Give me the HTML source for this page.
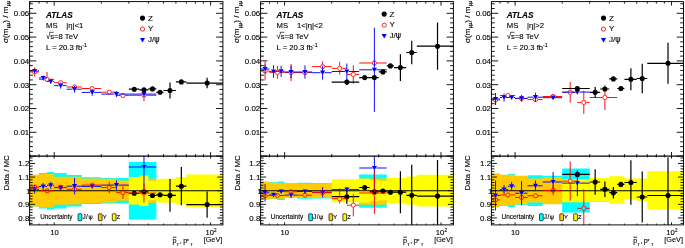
<!DOCTYPE html><html><head><meta charset="utf-8"><title>ATLAS resolution</title><style>html,body{margin:0;padding:0;background:#fff;overflow:hidden}svg{display:block}</style></head><body><svg width="685" height="248" viewBox="0 0 685 248" font-family="'Liberation Sans', Arial, Helvetica, sans-serif" fill="#000"><style>text{stroke:#000;stroke-width:0.12px}</style><defs><clipPath id="cu0"><rect x="29.60" y="1.6" width="193.30" height="154.5"/></clipPath><clipPath id="cr0"><rect x="29.60" y="156.1" width="193.30" height="68.80000000000001"/></clipPath><clipPath id="cu1"><rect x="260.60" y="1.6" width="192.80" height="154.5"/></clipPath><clipPath id="cr1"><rect x="260.60" y="156.1" width="192.80" height="68.80000000000001"/></clipPath><clipPath id="cu2"><rect x="491.40" y="1.6" width="192.10" height="154.5"/></clipPath><clipPath id="cr2"><rect x="491.40" y="156.1" width="192.10" height="68.80000000000001"/></clipPath></defs><rect width="685" height="248" fill="#fff"/><g clip-path="url(#cr0)">
<path d="M29.97 174.90L39.04 174.90L39.04 172.90L47.04 172.90L47.04 172.00L54.20 172.00L54.20 172.90L66.58 172.90L66.58 174.90L81.74 174.90L81.74 177.30L101.28 177.30L101.28 177.90L128.82 177.90L128.82 161.90L156.36 161.90L156.36 219.50L128.82 219.50L128.82 203.50L101.28 203.50L101.28 204.10L81.74 204.10L81.74 206.50L66.58 206.50L66.58 208.50L54.20 208.50L54.20 209.40L47.04 209.40L47.04 208.50L39.04 208.50L39.04 206.50L29.97 206.50Z" fill="#00ffff"/>
<path d="M29.97 174.85L39.04 174.85L39.04 173.90L54.20 173.90L54.20 176.75L66.58 176.75L66.58 176.80L81.74 176.80L81.74 178.40L101.28 178.40L101.28 178.80L116.44 178.80L116.44 180.60L128.82 180.60L128.82 178.70L156.36 178.70L156.36 202.70L128.82 202.70L128.82 200.80L116.44 200.80L116.44 202.60L101.28 202.60L101.28 203.00L81.74 203.00L81.74 204.60L66.58 204.60L66.58 204.65L54.20 204.65L54.20 207.50L39.04 207.50L39.04 206.55L29.97 206.55Z" fill="#ffcc00"/>
<path d="M128.82 177.00L139.29 177.00L139.29 175.40L148.36 175.40L148.36 181.10L156.36 181.10L156.36 178.90L163.52 178.90L163.52 178.70L175.90 178.70L175.90 176.90L186.37 176.90L186.37 174.50L222.98 174.50L222.98 206.90L186.37 206.90L186.37 204.50L175.90 204.50L175.90 202.70L163.52 202.70L163.52 202.50L156.36 202.50L156.36 200.30L148.36 200.30L148.36 206.00L139.29 206.00L139.29 204.40L128.82 204.40Z" fill="#ffff00"/>
<line x1="29.60" y1="190.75" x2="222.90" y2="190.75" stroke="#000" stroke-width="1.0"/>
<path d="M128.82 193.30H132.26M136.26 193.30H139.29M139.29 191.80H141.98M145.98 191.80H148.36M148.36 195.50H150.48M154.48 195.50H156.36M156.36 194.80H158.03M162.03 194.80H163.52M163.52 195.40H167.99M171.99 195.40H175.90M169.99 179.04V193.40M169.99 197.40V211.76M175.90 186.20H179.34M183.34 186.20H186.37M181.34 167.12V184.20M181.34 188.20V205.28M186.37 204.60H205.12M209.12 204.60H222.98M207.12 191.52V202.60M207.12 206.60V217.68" stroke="#000000" stroke-width="1.2" fill="none"/>
<circle cx="134.26" cy="193.30" r="2.55" fill="#000"/>
<circle cx="143.98" cy="191.80" r="2.55" fill="#000"/>
<circle cx="152.48" cy="195.50" r="2.55" fill="#000"/>
<circle cx="160.03" cy="194.80" r="2.55" fill="#000"/>
<circle cx="169.99" cy="195.40" r="2.55" fill="#000"/>
<circle cx="181.34" cy="186.20" r="2.55" fill="#000"/>
<circle cx="207.12" cy="204.60" r="2.55" fill="#000"/>
<path d="M29.97 189.30H32.66M36.66 189.30H39.04M34.66 185.10V187.30M34.66 191.30V193.50M39.04 186.50H41.16M45.16 186.50H47.04M43.16 183.00V184.50M43.16 188.50V190.00M47.04 185.30H48.72M52.72 185.30H54.20M50.72 181.80V183.30M50.72 187.30V188.80M54.20 187.60H58.67M62.67 187.60H66.58M66.58 186.20H72.58M76.58 186.20H81.74M74.58 178.02V184.20M74.58 188.20V194.38M81.74 186.40H90.21M94.21 186.40H101.28M101.28 185.10H114.44M118.44 185.10H128.82M116.44 180.33V183.10M116.44 187.10V189.87M128.82 167.00H141.98M145.98 167.00H156.36M143.98 142.47V165.00M143.98 169.00V191.53" stroke="#0000ff" stroke-width="0.95" fill="none"/>
<path d="M32.11 187.20H37.21L34.66 191.90Z" fill="#0000ff"/>
<path d="M40.61 184.40H45.71L43.16 189.10Z" fill="#0000ff"/>
<path d="M48.17 183.20H53.27L50.72 187.90Z" fill="#0000ff"/>
<path d="M58.12 185.50H63.22L60.67 190.20Z" fill="#0000ff"/>
<path d="M72.03 184.10H77.13L74.58 188.80Z" fill="#0000ff"/>
<path d="M89.66 184.30H94.76L92.21 189.00Z" fill="#0000ff"/>
<path d="M113.89 183.00H118.99L116.44 187.70Z" fill="#0000ff"/>
<path d="M141.43 164.90H146.53L143.98 169.60Z" fill="#0000ff"/>
<path d="M29.97 187.10H32.16M37.16 187.10H39.04M39.04 190.80H44.54M49.54 190.80H54.20M54.20 187.30H58.17M63.17 187.30H66.58M66.58 189.30H72.08M77.08 189.30H81.74M81.74 185.10H89.71M94.71 185.10H101.28M101.28 187.60H106.78M111.78 187.60H116.44M109.28 181.74V185.10M109.28 190.10V193.46M116.44 192.60H120.41M125.41 192.60H128.82M122.91 186.33V190.10M122.91 195.10V198.87M128.82 193.10H141.48M146.48 193.10H156.36M143.98 183.56V190.60M143.98 195.60V202.64" stroke="#ff0000" stroke-width="0.95" fill="none"/>
<circle cx="34.66" cy="187.10" r="2.1" fill="none" stroke="#ff0000" stroke-width="0.85"/>
<circle cx="47.04" cy="190.80" r="2.1" fill="none" stroke="#ff0000" stroke-width="0.85"/>
<circle cx="60.67" cy="187.30" r="2.1" fill="none" stroke="#ff0000" stroke-width="0.85"/>
<circle cx="74.58" cy="189.30" r="2.1" fill="none" stroke="#ff0000" stroke-width="0.85"/>
<circle cx="92.21" cy="185.10" r="2.1" fill="none" stroke="#ff0000" stroke-width="0.85"/>
<circle cx="109.28" cy="187.60" r="2.1" fill="none" stroke="#ff0000" stroke-width="0.85"/>
<circle cx="122.91" cy="192.60" r="2.1" fill="none" stroke="#ff0000" stroke-width="0.85"/>
<circle cx="143.98" cy="193.10" r="2.1" fill="none" stroke="#ff0000" stroke-width="0.85"/>
</g>
<g clip-path="url(#cu0)">
<path d="M29.97 72.00H32.16M37.16 72.00H39.04M34.66 67.48V69.50M34.66 74.50V76.52M39.04 79.30H44.54M49.54 79.30H54.20M47.04 72.00V76.80M54.20 82.70H58.17M63.17 82.70H66.58M66.58 87.00H72.08M77.08 87.00H81.74M81.74 88.50H89.71M94.71 88.50H101.28M101.28 92.20H106.78M111.78 92.20H116.44M116.44 95.50H120.41M125.41 95.50H128.82M128.82 95.30H141.48M146.48 95.30H156.36M143.98 89.35V92.80M143.98 97.80V101.25" stroke="#ff0000" stroke-width="0.95" fill="none"/>
<circle cx="34.66" cy="72.00" r="2.1" fill="none" stroke="#ff0000" stroke-width="0.85"/>
<circle cx="47.04" cy="79.30" r="2.1" fill="none" stroke="#ff0000" stroke-width="0.85"/>
<circle cx="60.67" cy="82.70" r="2.1" fill="none" stroke="#ff0000" stroke-width="0.85"/>
<circle cx="74.58" cy="87.00" r="2.1" fill="none" stroke="#ff0000" stroke-width="0.85"/>
<circle cx="92.21" cy="88.50" r="2.1" fill="none" stroke="#ff0000" stroke-width="0.85"/>
<circle cx="109.28" cy="92.20" r="2.1" fill="none" stroke="#ff0000" stroke-width="0.85"/>
<circle cx="122.91" cy="95.50" r="2.1" fill="none" stroke="#ff0000" stroke-width="0.85"/>
<circle cx="143.98" cy="95.30" r="2.1" fill="none" stroke="#ff0000" stroke-width="0.85"/>
<path d="M29.97 71.00H32.66M36.66 71.00H39.04M34.66 68.50V69.00M34.66 73.00V73.50M39.04 78.00H41.16M45.16 78.00H47.04M43.16 75.50V76.00M43.16 80.00V80.50M47.04 81.50H48.72M52.72 81.50H54.20M50.72 79.00V79.50M50.72 83.50V84.00M54.20 85.60H58.67M62.67 85.60H66.58M60.67 82.60V83.60M60.67 87.60V88.60M66.58 89.20H72.58M76.58 89.20H81.74M74.58 85.80V87.20M74.58 91.20V92.60M81.74 92.40H90.21M94.21 92.40H101.28M92.21 89.00V90.40M92.21 94.40V95.80M101.28 94.10H114.44M118.44 94.10H128.82M116.44 91.10V92.10M116.44 96.10V97.10M128.82 94.10H141.98M145.98 94.10H156.36M143.98 91.10V92.10M143.98 96.10V97.10" stroke="#0000ff" stroke-width="0.95" fill="none"/>
<path d="M32.11 68.90H37.21L34.66 73.60Z" fill="#0000ff"/>
<path d="M40.61 75.90H45.71L43.16 80.60Z" fill="#0000ff"/>
<path d="M48.17 79.40H53.27L50.72 84.10Z" fill="#0000ff"/>
<path d="M58.12 83.50H63.22L60.67 88.20Z" fill="#0000ff"/>
<path d="M72.03 87.10H77.13L74.58 91.80Z" fill="#0000ff"/>
<path d="M89.66 90.30H94.76L92.21 95.00Z" fill="#0000ff"/>
<path d="M113.89 92.00H118.99L116.44 96.70Z" fill="#0000ff"/>
<path d="M141.43 92.00H146.53L143.98 96.70Z" fill="#0000ff"/>
<path d="M128.82 89.20H132.26M136.26 89.20H139.29M139.29 89.80H141.98M145.98 89.80H148.36M148.36 88.90H150.48M154.48 88.90H156.36M156.36 92.30H158.03M162.03 92.30H163.52M163.52 90.50H167.99M171.99 90.50H175.90M169.99 82.41V88.50M169.99 92.50V98.59M175.90 81.90H179.34M183.34 81.90H186.37M186.37 83.10H205.12M209.12 83.10H222.98M207.12 77.86V81.10M207.12 85.10V88.34" stroke="#000000" stroke-width="1.2" fill="none"/>
<circle cx="134.26" cy="89.20" r="2.55" fill="#000"/>
<circle cx="143.98" cy="89.80" r="2.55" fill="#000"/>
<circle cx="152.48" cy="88.90" r="2.55" fill="#000"/>
<circle cx="160.03" cy="92.30" r="2.55" fill="#000"/>
<circle cx="169.99" cy="90.50" r="2.55" fill="#000"/>
<circle cx="181.34" cy="81.90" r="2.55" fill="#000"/>
<circle cx="207.12" cy="83.10" r="2.55" fill="#000"/>
</g>
<rect x="29.6" y="1.6" width="193.3" height="223.3" fill="none" stroke="#000" stroke-width="0.95"/>
<line x1="29.6" y1="156.1" x2="222.9" y2="156.1" stroke="#000" stroke-width="1.1"/>
<path d="M29.6 156.10h6.8M222.9 156.10h-6.8M29.6 151.34h3.3M222.9 151.34h-3.3M29.6 146.58h3.3M222.9 146.58h-3.3M29.6 141.82h3.3M222.9 141.82h-3.3M29.6 137.06h3.3M222.9 137.06h-3.3M29.6 132.30h6.8M222.9 132.30h-6.8M29.6 127.54h3.3M222.9 127.54h-3.3M29.6 122.78h3.3M222.9 122.78h-3.3M29.6 118.02h3.3M222.9 118.02h-3.3M29.6 113.26h3.3M222.9 113.26h-3.3M29.6 108.50h6.8M222.9 108.50h-6.8M29.6 103.74h3.3M222.9 103.74h-3.3M29.6 98.98h3.3M222.9 98.98h-3.3M29.6 94.22h3.3M222.9 94.22h-3.3M29.6 89.46h3.3M222.9 89.46h-3.3M29.6 84.70h6.8M222.9 84.70h-6.8M29.6 79.94h3.3M222.9 79.94h-3.3M29.6 75.18h3.3M222.9 75.18h-3.3M29.6 70.42h3.3M222.9 70.42h-3.3M29.6 65.66h3.3M222.9 65.66h-3.3M29.6 60.90h6.8M222.9 60.90h-6.8M29.6 56.14h3.3M222.9 56.14h-3.3M29.6 51.38h3.3M222.9 51.38h-3.3M29.6 46.62h3.3M222.9 46.62h-3.3M29.6 41.86h3.3M222.9 41.86h-3.3M29.6 37.10h6.8M222.9 37.10h-6.8M29.6 32.34h3.3M222.9 32.34h-3.3M29.6 27.58h3.3M222.9 27.58h-3.3M29.6 22.82h3.3M222.9 22.82h-3.3M29.6 18.06h3.3M222.9 18.06h-3.3M29.6 13.30h6.8M222.9 13.30h-6.8M29.6 8.54h3.3M222.9 8.54h-3.3M29.6 3.78h3.3M222.9 3.78h-3.3M29.6 223.41h3.0M222.9 223.41h-3.0M29.6 220.69h3.0M222.9 220.69h-3.0M29.6 217.96h5.5M222.9 217.96h-5.5M29.6 215.23h3.0M222.9 215.23h-3.0M29.6 212.51h3.0M222.9 212.51h-3.0M29.6 209.78h3.0M222.9 209.78h-3.0M29.6 207.06h3.0M222.9 207.06h-3.0M29.6 204.33h5.5M222.9 204.33h-5.5M29.6 201.60h3.0M222.9 201.60h-3.0M29.6 198.88h3.0M222.9 198.88h-3.0M29.6 196.15h3.0M222.9 196.15h-3.0M29.6 193.43h3.0M222.9 193.43h-3.0M29.6 190.70h5.5M222.9 190.70h-5.5M29.6 187.97h3.0M222.9 187.97h-3.0M29.6 185.25h3.0M222.9 185.25h-3.0M29.6 182.52h3.0M222.9 182.52h-3.0M29.6 179.80h3.0M222.9 179.80h-3.0M29.6 177.07h5.5M222.9 177.07h-5.5M29.6 174.34h3.0M222.9 174.34h-3.0M29.6 171.62h3.0M222.9 171.62h-3.0M29.6 168.89h3.0M222.9 168.89h-3.0M29.6 166.17h3.0M222.9 166.17h-3.0M29.6 163.44h5.5M222.9 163.44h-5.5M29.6 160.71h3.0M222.9 160.71h-3.0M29.6 157.99h3.0M222.9 157.99h-3.0M29.97 1.6v2.0M29.97 156.1v-2.0M29.97 156.1v1.3M29.97 224.9v-1.3M39.04 1.6v2.0M39.04 156.1v-2.0M39.04 156.1v1.3M39.04 224.9v-1.3M47.04 1.6v2.0M47.04 156.1v-2.0M47.04 156.1v1.3M47.04 224.9v-1.3M54.20 1.6v4.0M54.20 156.1v-4.0M54.20 156.1v2.5M54.20 224.9v-2.5M101.28 1.6v2.0M101.28 156.1v-2.0M101.28 156.1v1.3M101.28 224.9v-1.3M128.82 1.6v2.0M128.82 156.1v-2.0M128.82 156.1v1.3M128.82 224.9v-1.3M148.36 1.6v2.0M148.36 156.1v-2.0M148.36 156.1v1.3M148.36 224.9v-1.3M163.52 1.6v2.0M163.52 156.1v-2.0M163.52 156.1v1.3M163.52 224.9v-1.3M175.90 1.6v2.0M175.90 156.1v-2.0M175.90 156.1v1.3M175.90 224.9v-1.3M186.37 1.6v2.0M186.37 156.1v-2.0M186.37 156.1v1.3M186.37 224.9v-1.3M195.44 1.6v2.0M195.44 156.1v-2.0M195.44 156.1v1.3M195.44 224.9v-1.3M203.44 1.6v2.0M203.44 156.1v-2.0M203.44 156.1v1.3M203.44 224.9v-1.3M210.60 1.6v4.0M210.60 156.1v-4.0M210.60 156.1v2.5M210.60 224.9v-2.5" stroke="#000" stroke-width="0.9" fill="none"/>
<text x="29.20" y="16.20" font-size="7.9" text-anchor="end" >0.06</text>
<text x="29.20" y="40.00" font-size="7.9" text-anchor="end" >0.05</text>
<text x="29.20" y="63.80" font-size="7.9" text-anchor="end" >0.04</text>
<text x="29.20" y="87.60" font-size="7.9" text-anchor="end" >0.03</text>
<text x="29.20" y="111.40" font-size="7.9" text-anchor="end" >0.02</text>
<text x="29.20" y="135.20" font-size="7.9" text-anchor="end" >0.01</text>
<text x="29.30" y="166.34" font-size="7.9" text-anchor="end" >1.2</text>
<text x="29.30" y="179.97" font-size="7.9" text-anchor="end" >1.1</text>
<text x="30.70" y="193.60" font-size="7.9" text-anchor="end" >1</text>
<text x="29.30" y="207.23" font-size="7.9" text-anchor="end" >0.9</text>
<text x="29.30" y="220.86" font-size="7.9" text-anchor="end" >0.8</text>
<text x="54.45" y="234.80" font-size="7.6" text-anchor="middle" >10</text>
<text x="209.70" y="234.80" font-size="7.6" text-anchor="middle" >10</text>
<text x="214.10" y="231.50" font-size="4.6" text-anchor="start" >2</text>
<text x="222.30" y="242.30" font-size="8.0" text-anchor="end" textLength="18.6" lengthAdjust="spacingAndGlyphs">[GeV]</text>
<text x="172.60" y="242.90" font-size="7.2" text-anchor="start" >p</text>
<text x="176.60" y="246.00" font-size="4.4" text-anchor="start" >T</text>
<text x="179.80" y="242.90" font-size="7.2" text-anchor="start" >,</text>
<text x="183.20" y="242.90" font-size="7.2" text-anchor="start" >p</text>
<text x="186.80" y="243.20" font-size="5.2" text-anchor="start" >*</text>
<text x="190.30" y="246.00" font-size="4.4" text-anchor="start" >T</text>
<line x1="172.80" y1="237.2" x2="176.40" y2="237.2" stroke="#000" stroke-width="0.8"/>
<text transform="translate(8.00,43.0) rotate(-90)" font-size="8.1">σ(m<tspan font-size="4.8" dy="2.4" dx="0.3">μμ</tspan><tspan dy="-2.4">) / m</tspan><tspan font-size="4.8" dy="2.4" dx="0.3">μμ</tspan></text>
<text transform="translate(9.40,190.4) rotate(-90)" font-size="7.8">Data / MC</text>
<text x="46.00" y="17.6" font-size="8.2" font-weight="bold" font-style="italic">ATLAS</text>
<text x="46.00" y="27.8" font-size="7.7">MS</text>
<text x="66.30" y="27.8" font-size="7.7">|η|&lt;1</text>
<text x="46.00" y="39.0" font-size="7.7">√<tspan>s=8 TeV</tspan></text>
<line x1="49.20" y1="32.3" x2="53.80" y2="32.3" stroke="#000" stroke-width="0.65"/>
<text x="46.00" y="49.8" font-size="7.7">L = 20.3 fb<tspan font-size="5.4" dy="-3.2">-1</tspan></text>
<circle cx="142.50" cy="18.10" r="2.55" fill="#000"/>
<circle cx="142.50" cy="29.10" r="2.1" fill="none" stroke="#ff0000" stroke-width="0.85"/>
<path d="M139.95 37.90H145.05L142.50 42.60Z" fill="#0000ff"/>
<text x="147.90" y="20.70" font-size="8.0">Z</text>
<text x="147.90" y="31.40" font-size="8.0">Υ</text>
<text x="147.90" y="42.00" font-size="8.0">J/<tspan font-family="'DejaVu Sans', sans-serif">ψ</tspan></text>
<text x="40.20" y="218.9" font-size="6.4">Uncertainty</text>
<rect x="78.10" y="213.8" width="3.7" height="6.9" rx="0.6" fill="#00ffff" stroke="#000" stroke-width="0.7"/>
<text x="82.40" y="219.4" font-size="6.4" letter-spacing="0.5">J/<tspan font-family="'DejaVu Sans', sans-serif">ψ</tspan></text>
<rect x="98.40" y="213.8" width="3.7" height="6.9" rx="0.6" fill="#ffcc00" stroke="#000" stroke-width="0.7"/>
<text x="102.70" y="219.4" font-size="5.8" letter-spacing="0">Υ</text>
<rect x="112.30" y="213.8" width="3.7" height="6.9" rx="0.6" fill="#ffff00" stroke="#000" stroke-width="0.7"/>
<text x="116.60" y="219.4" font-size="5.8" letter-spacing="0">Z</text>
<g clip-path="url(#cr1)">
<path d="M260.37 182.70L269.44 182.70L269.44 182.30L277.44 182.30L277.44 181.50L284.60 181.50L284.60 183.30L296.98 183.30L296.98 182.70L312.14 182.70L312.14 182.90L331.68 182.90L331.68 182.70L359.22 182.70L359.22 174.50L386.76 174.50L386.76 207.70L359.22 207.70L359.22 198.70L331.68 198.70L331.68 198.50L312.14 198.50L312.14 198.70L296.98 198.70L296.98 198.10L284.60 198.10L284.60 199.90L277.44 199.90L277.44 199.10L269.44 199.10L269.44 198.70L260.37 198.70Z" fill="#00ffff"/>
<path d="M260.37 181.60L269.44 181.60L269.44 182.70L284.60 182.70L284.60 183.30L296.98 183.30L296.98 183.50L312.14 183.50L312.14 183.50L331.68 183.50L331.68 183.70L346.84 183.70L346.84 183.70L359.22 183.70L359.22 178.50L386.76 178.50L386.76 204.70L359.22 204.70L359.22 197.70L346.84 197.70L346.84 197.70L331.68 197.70L331.68 197.90L312.14 197.90L312.14 197.90L296.98 197.90L296.98 198.10L284.60 198.10L284.60 198.70L269.44 198.70L269.44 199.80L260.37 199.80Z" fill="#ffcc00"/>
<path d="M331.68 179.20L359.22 179.20L359.22 178.70L369.69 178.70L369.69 180.20L378.76 180.20L378.76 181.10L386.76 181.10L386.76 178.10L393.92 178.10L393.92 178.00L406.30 178.00L406.30 176.60L416.77 176.60L416.77 174.80L453.38 174.80L453.38 206.60L416.77 206.60L416.77 204.80L406.30 204.80L406.30 203.40L393.92 203.40L393.92 203.30L386.76 203.30L386.76 200.30L378.76 200.30L378.76 201.20L369.69 201.20L369.69 202.70L359.22 202.70L359.22 202.20L331.68 202.20Z" fill="#ffff00"/>
<line x1="260.60" y1="190.75" x2="453.40" y2="190.75" stroke="#000" stroke-width="1.0"/>
<path d="M331.68 196.70H344.84M348.84 196.70H359.22M346.84 189.70V194.70M346.84 198.70V203.70M359.22 187.50H362.66M366.66 187.50H369.69M369.69 191.80H372.38M376.38 191.80H378.76M378.76 191.10H380.88M384.88 191.10H386.76M386.76 192.20H388.43M392.43 192.20H393.92M393.92 192.20H398.39M402.39 192.20H406.30M400.39 171.20V190.20M400.39 194.20V213.20M406.30 195.30H409.74M413.74 195.30H416.77M411.74 164.80V193.30M411.74 197.30V225.80M416.77 196.10H435.52M439.52 196.10H453.38M437.52 160.10V194.10M437.52 198.10V232.10" stroke="#000000" stroke-width="1.2" fill="none"/>
<circle cx="346.84" cy="196.70" r="2.55" fill="#000"/>
<circle cx="364.66" cy="187.50" r="2.55" fill="#000"/>
<circle cx="374.38" cy="191.80" r="2.55" fill="#000"/>
<circle cx="382.88" cy="191.10" r="2.55" fill="#000"/>
<circle cx="390.43" cy="192.20" r="2.55" fill="#000"/>
<circle cx="400.39" cy="192.20" r="2.55" fill="#000"/>
<circle cx="411.74" cy="195.30" r="2.55" fill="#000"/>
<circle cx="437.52" cy="196.10" r="2.55" fill="#000"/>
<path d="M260.37 192.80H263.06M267.06 192.80H269.44M265.06 184.00V190.80M265.06 194.80V201.60M269.44 194.80H271.56M275.56 194.80H277.44M277.44 191.50H279.12M283.12 191.50H284.60M284.60 195.10H289.07M293.07 195.10H296.98M291.07 192.10V193.10M291.07 197.10V198.10M296.98 191.50H302.98M306.98 191.50H312.14M312.14 192.30H320.61M324.61 192.30H331.68M322.61 187.10V190.30M322.61 194.30V197.50M331.68 189.60H344.84M348.84 189.60H359.22M346.84 187.10V187.60M346.84 191.60V192.10M359.22 168.00H372.38M376.38 168.00H386.76M374.38 138.00V166.00M374.38 170.00V190.00" stroke="#0000ff" stroke-width="0.95" fill="none"/>
<path d="M262.51 190.70H267.61L265.06 195.40Z" fill="#0000ff"/>
<path d="M271.01 192.70H276.11L273.56 197.40Z" fill="#0000ff"/>
<path d="M278.57 189.40H283.67L281.12 194.10Z" fill="#0000ff"/>
<path d="M288.52 193.00H293.62L291.07 197.70Z" fill="#0000ff"/>
<path d="M302.43 189.40H307.53L304.98 194.10Z" fill="#0000ff"/>
<path d="M320.06 190.20H325.16L322.61 194.90Z" fill="#0000ff"/>
<path d="M344.29 187.50H349.39L346.84 192.20Z" fill="#0000ff"/>
<path d="M371.83 165.90H376.93L374.38 170.60Z" fill="#0000ff"/>
<path d="M260.37 195.60H262.56M267.56 195.60H269.44M269.44 195.50H274.94M279.94 195.50H284.60M284.60 191.80H288.57M293.57 191.80H296.98M296.98 195.20H302.48M307.48 195.20H312.14M312.14 192.60H320.11M325.11 192.60H331.68M331.68 198.70H337.18M342.18 198.70H346.84M339.68 188.20V196.20M339.68 201.20V203.40M346.84 205.20H350.81M355.81 205.20H359.22M353.31 194.00V202.70M353.31 207.70V216.40M359.22 193.00H371.88M376.88 193.00H386.76M374.38 172.00V190.50M374.38 195.50V214.00" stroke="#ff0000" stroke-width="0.95" fill="none"/>
<circle cx="265.06" cy="195.60" r="2.1" fill="none" stroke="#ff0000" stroke-width="0.85"/>
<circle cx="277.44" cy="195.50" r="2.1" fill="none" stroke="#ff0000" stroke-width="0.85"/>
<circle cx="291.07" cy="191.80" r="2.1" fill="none" stroke="#ff0000" stroke-width="0.85"/>
<circle cx="304.98" cy="195.20" r="2.1" fill="none" stroke="#ff0000" stroke-width="0.85"/>
<circle cx="322.61" cy="192.60" r="2.1" fill="none" stroke="#ff0000" stroke-width="0.85"/>
<circle cx="339.68" cy="198.70" r="2.1" fill="none" stroke="#ff0000" stroke-width="0.85"/>
<circle cx="353.31" cy="205.20" r="2.1" fill="none" stroke="#ff0000" stroke-width="0.85"/>
<circle cx="374.38" cy="193.00" r="2.1" fill="none" stroke="#ff0000" stroke-width="0.85"/>
</g>
<g clip-path="url(#cu1)">
<path d="M260.37 71.00H262.56M267.56 71.00H269.44M265.06 61.50V68.50M265.06 73.50V80.50M269.44 72.40H274.94M279.94 72.40H284.60M277.44 65.90V69.90M277.44 74.90V78.90M284.60 72.50H288.57M293.57 72.50H296.98M291.07 64.00V70.00M291.07 75.00V81.00M296.98 72.60H302.48M307.48 72.60H312.14M312.14 66.60H320.11M325.11 66.60H331.68M322.61 61.30V64.10M322.61 69.10V71.90M331.68 68.30H337.18M342.18 68.30H346.84M339.68 61.90V65.80M339.68 70.80V74.70M346.84 74.40H350.81M355.81 74.40H359.22M353.31 65.20V71.90M353.31 76.90V83.60M359.22 63.00H371.88M376.88 63.00H386.76" stroke="#ff0000" stroke-width="0.95" fill="none"/>
<circle cx="265.06" cy="71.00" r="2.1" fill="none" stroke="#ff0000" stroke-width="0.85"/>
<circle cx="277.44" cy="72.40" r="2.1" fill="none" stroke="#ff0000" stroke-width="0.85"/>
<circle cx="291.07" cy="72.50" r="2.1" fill="none" stroke="#ff0000" stroke-width="0.85"/>
<circle cx="304.98" cy="72.60" r="2.1" fill="none" stroke="#ff0000" stroke-width="0.85"/>
<circle cx="322.61" cy="66.60" r="2.1" fill="none" stroke="#ff0000" stroke-width="0.85"/>
<circle cx="339.68" cy="68.30" r="2.1" fill="none" stroke="#ff0000" stroke-width="0.85"/>
<circle cx="353.31" cy="74.40" r="2.1" fill="none" stroke="#ff0000" stroke-width="0.85"/>
<circle cx="374.38" cy="63.00" r="2.1" fill="none" stroke="#ff0000" stroke-width="0.85"/>
<path d="M260.37 69.00H263.06M267.06 69.00H269.44M265.06 64.50V67.00M265.06 71.00V73.50M269.44 71.50H271.56M275.56 71.50H277.44M273.56 65.30V69.50M273.56 73.50V77.70M277.44 71.30H279.12M283.12 71.30H284.60M281.12 65.70V69.30M281.12 73.30V76.90M284.60 72.00H289.07M293.07 72.00H296.98M291.07 65.70V70.00M291.07 74.00V78.30M296.98 72.00H302.98M306.98 72.00H312.14M304.98 65.30V70.00M304.98 74.00V78.70M312.14 72.70H320.61M324.61 72.70H331.68M322.61 65.70V70.70M322.61 74.70V79.70M331.68 71.50H344.84M348.84 71.50H359.22M346.84 63.50V69.50M346.84 73.50V79.50M359.22 69.80H372.38M376.38 69.80H386.76M374.38 27.70V67.80M374.38 71.80V111.90" stroke="#0000ff" stroke-width="0.95" fill="none"/>
<path d="M262.51 66.90H267.61L265.06 71.60Z" fill="#0000ff"/>
<path d="M271.01 69.40H276.11L273.56 74.10Z" fill="#0000ff"/>
<path d="M278.57 69.20H283.67L281.12 73.90Z" fill="#0000ff"/>
<path d="M288.52 69.90H293.62L291.07 74.60Z" fill="#0000ff"/>
<path d="M302.43 69.90H307.53L304.98 74.60Z" fill="#0000ff"/>
<path d="M320.06 70.60H325.16L322.61 75.30Z" fill="#0000ff"/>
<path d="M344.29 69.40H349.39L346.84 74.10Z" fill="#0000ff"/>
<path d="M371.83 67.70H376.93L374.38 72.40Z" fill="#0000ff"/>
<path d="M331.68 82.10H344.84M348.84 82.10H359.22M346.84 79.30V80.10M346.84 84.10V84.90M359.22 77.60H362.66M366.66 77.60H369.69M369.69 77.60H372.38M376.38 77.60H378.76M378.76 71.90H380.88M384.88 71.90H386.76M386.76 65.90H388.43M392.43 65.90H393.92M393.92 67.60H398.39M402.39 67.60H406.30M400.39 54.30V65.60M400.39 69.60V80.90M406.30 52.50H409.74M413.74 52.50H416.77M411.74 40.80V50.50M411.74 54.50V64.20M416.77 46.20H435.52M439.52 46.20H453.38M437.52 22.60V44.20M437.52 48.20V69.80" stroke="#000000" stroke-width="1.2" fill="none"/>
<circle cx="346.84" cy="82.10" r="2.55" fill="#000"/>
<circle cx="364.66" cy="77.60" r="2.55" fill="#000"/>
<circle cx="374.38" cy="77.60" r="2.55" fill="#000"/>
<circle cx="382.88" cy="71.90" r="2.55" fill="#000"/>
<circle cx="390.43" cy="65.90" r="2.55" fill="#000"/>
<circle cx="400.39" cy="67.60" r="2.55" fill="#000"/>
<circle cx="411.74" cy="52.50" r="2.55" fill="#000"/>
<circle cx="437.52" cy="46.20" r="2.55" fill="#000"/>
</g>
<rect x="260.6" y="1.6" width="192.79999999999995" height="223.3" fill="none" stroke="#000" stroke-width="0.95"/>
<line x1="260.6" y1="156.1" x2="453.4" y2="156.1" stroke="#000" stroke-width="1.1"/>
<path d="M260.6 156.10h6.8M453.4 156.10h-6.8M260.6 151.34h3.3M453.4 151.34h-3.3M260.6 146.58h3.3M453.4 146.58h-3.3M260.6 141.82h3.3M453.4 141.82h-3.3M260.6 137.06h3.3M453.4 137.06h-3.3M260.6 132.30h6.8M453.4 132.30h-6.8M260.6 127.54h3.3M453.4 127.54h-3.3M260.6 122.78h3.3M453.4 122.78h-3.3M260.6 118.02h3.3M453.4 118.02h-3.3M260.6 113.26h3.3M453.4 113.26h-3.3M260.6 108.50h6.8M453.4 108.50h-6.8M260.6 103.74h3.3M453.4 103.74h-3.3M260.6 98.98h3.3M453.4 98.98h-3.3M260.6 94.22h3.3M453.4 94.22h-3.3M260.6 89.46h3.3M453.4 89.46h-3.3M260.6 84.70h6.8M453.4 84.70h-6.8M260.6 79.94h3.3M453.4 79.94h-3.3M260.6 75.18h3.3M453.4 75.18h-3.3M260.6 70.42h3.3M453.4 70.42h-3.3M260.6 65.66h3.3M453.4 65.66h-3.3M260.6 60.90h6.8M453.4 60.90h-6.8M260.6 56.14h3.3M453.4 56.14h-3.3M260.6 51.38h3.3M453.4 51.38h-3.3M260.6 46.62h3.3M453.4 46.62h-3.3M260.6 41.86h3.3M453.4 41.86h-3.3M260.6 37.10h6.8M453.4 37.10h-6.8M260.6 32.34h3.3M453.4 32.34h-3.3M260.6 27.58h3.3M453.4 27.58h-3.3M260.6 22.82h3.3M453.4 22.82h-3.3M260.6 18.06h3.3M453.4 18.06h-3.3M260.6 13.30h6.8M453.4 13.30h-6.8M260.6 8.54h3.3M453.4 8.54h-3.3M260.6 3.78h3.3M453.4 3.78h-3.3M260.6 223.41h3.0M453.4 223.41h-3.0M260.6 220.69h3.0M453.4 220.69h-3.0M260.6 217.96h5.5M453.4 217.96h-5.5M260.6 215.23h3.0M453.4 215.23h-3.0M260.6 212.51h3.0M453.4 212.51h-3.0M260.6 209.78h3.0M453.4 209.78h-3.0M260.6 207.06h3.0M453.4 207.06h-3.0M260.6 204.33h5.5M453.4 204.33h-5.5M260.6 201.60h3.0M453.4 201.60h-3.0M260.6 198.88h3.0M453.4 198.88h-3.0M260.6 196.15h3.0M453.4 196.15h-3.0M260.6 193.43h3.0M453.4 193.43h-3.0M260.6 190.70h5.5M453.4 190.70h-5.5M260.6 187.97h3.0M453.4 187.97h-3.0M260.6 185.25h3.0M453.4 185.25h-3.0M260.6 182.52h3.0M453.4 182.52h-3.0M260.6 179.80h3.0M453.4 179.80h-3.0M260.6 177.07h5.5M453.4 177.07h-5.5M260.6 174.34h3.0M453.4 174.34h-3.0M260.6 171.62h3.0M453.4 171.62h-3.0M260.6 168.89h3.0M453.4 168.89h-3.0M260.6 166.17h3.0M453.4 166.17h-3.0M260.6 163.44h5.5M453.4 163.44h-5.5M260.6 160.71h3.0M453.4 160.71h-3.0M260.6 157.99h3.0M453.4 157.99h-3.0M269.44 1.6v2.0M269.44 156.1v-2.0M269.44 156.1v1.3M269.44 224.9v-1.3M277.44 1.6v2.0M277.44 156.1v-2.0M277.44 156.1v1.3M277.44 224.9v-1.3M284.60 1.6v4.0M284.60 156.1v-4.0M284.60 156.1v2.5M284.60 224.9v-2.5M331.68 1.6v2.0M331.68 156.1v-2.0M331.68 156.1v1.3M331.68 224.9v-1.3M359.22 1.6v2.0M359.22 156.1v-2.0M359.22 156.1v1.3M359.22 224.9v-1.3M378.76 1.6v2.0M378.76 156.1v-2.0M378.76 156.1v1.3M378.76 224.9v-1.3M393.92 1.6v2.0M393.92 156.1v-2.0M393.92 156.1v1.3M393.92 224.9v-1.3M406.30 1.6v2.0M406.30 156.1v-2.0M406.30 156.1v1.3M406.30 224.9v-1.3M416.77 1.6v2.0M416.77 156.1v-2.0M416.77 156.1v1.3M416.77 224.9v-1.3M425.84 1.6v2.0M425.84 156.1v-2.0M425.84 156.1v1.3M425.84 224.9v-1.3M433.84 1.6v2.0M433.84 156.1v-2.0M433.84 156.1v1.3M433.84 224.9v-1.3M441.00 1.6v4.0M441.00 156.1v-4.0M441.00 156.1v2.5M441.00 224.9v-2.5" stroke="#000" stroke-width="0.9" fill="none"/>
<text x="260.20" y="16.20" font-size="7.9" text-anchor="end" >0.06</text>
<text x="260.20" y="40.00" font-size="7.9" text-anchor="end" >0.05</text>
<text x="260.20" y="63.80" font-size="7.9" text-anchor="end" >0.04</text>
<text x="260.20" y="87.60" font-size="7.9" text-anchor="end" >0.03</text>
<text x="260.20" y="111.40" font-size="7.9" text-anchor="end" >0.02</text>
<text x="260.20" y="135.20" font-size="7.9" text-anchor="end" >0.01</text>
<text x="260.30" y="166.34" font-size="7.9" text-anchor="end" >1.2</text>
<text x="260.30" y="179.97" font-size="7.9" text-anchor="end" >1.1</text>
<text x="261.70" y="193.60" font-size="7.9" text-anchor="end" >1</text>
<text x="260.30" y="207.23" font-size="7.9" text-anchor="end" >0.9</text>
<text x="260.30" y="220.86" font-size="7.9" text-anchor="end" >0.8</text>
<text x="284.85" y="234.80" font-size="7.6" text-anchor="middle" >10</text>
<text x="440.10" y="234.80" font-size="7.6" text-anchor="middle" >10</text>
<text x="444.50" y="231.50" font-size="4.6" text-anchor="start" >2</text>
<text x="452.80" y="242.30" font-size="8.0" text-anchor="end" textLength="18.6" lengthAdjust="spacingAndGlyphs">[GeV]</text>
<text x="403.10" y="242.90" font-size="7.2" text-anchor="start" >p</text>
<text x="407.10" y="246.00" font-size="4.4" text-anchor="start" >T</text>
<text x="410.30" y="242.90" font-size="7.2" text-anchor="start" >,</text>
<text x="413.70" y="242.90" font-size="7.2" text-anchor="start" >p</text>
<text x="417.30" y="243.20" font-size="5.2" text-anchor="start" >*</text>
<text x="420.80" y="246.00" font-size="4.4" text-anchor="start" >T</text>
<line x1="403.30" y1="237.2" x2="406.90" y2="237.2" stroke="#000" stroke-width="0.8"/>
<text transform="translate(239.40,43.0) rotate(-90)" font-size="8.1">σ(m<tspan font-size="4.8" dy="2.4" dx="0.3">μμ</tspan><tspan dy="-2.4">) / m</tspan><tspan font-size="4.8" dy="2.4" dx="0.3">μμ</tspan></text>
<text transform="translate(239.80,190.4) rotate(-90)" font-size="7.8">Data / MC</text>
<text x="276.60" y="17.6" font-size="8.2" font-weight="bold" font-style="italic">ATLAS</text>
<text x="276.60" y="27.8" font-size="7.7">MS</text>
<text x="296.90" y="27.8" font-size="7.7">1&lt;|η|&lt;2</text>
<text x="276.60" y="39.0" font-size="7.7">√<tspan>s=8 TeV</tspan></text>
<line x1="279.80" y1="32.3" x2="284.40" y2="32.3" stroke="#000" stroke-width="0.65"/>
<text x="276.60" y="49.8" font-size="7.7">L = 20.3 fb<tspan font-size="5.4" dy="-3.2">-1</tspan></text>
<circle cx="384.20" cy="14.10" r="2.55" fill="#000"/>
<circle cx="384.20" cy="25.10" r="2.1" fill="none" stroke="#ff0000" stroke-width="0.85"/>
<path d="M381.65 33.90H386.75L384.20 38.60Z" fill="#0000ff"/>
<text x="389.60" y="16.70" font-size="8.0">Z</text>
<text x="389.60" y="27.40" font-size="8.0">Υ</text>
<text x="389.60" y="38.00" font-size="8.0">J/<tspan font-family="'DejaVu Sans', sans-serif">ψ</tspan></text>
<text x="270.80" y="218.9" font-size="6.4">Uncertainty</text>
<rect x="308.70" y="213.8" width="3.7" height="6.9" rx="0.6" fill="#00ffff" stroke="#000" stroke-width="0.7"/>
<text x="313.00" y="219.4" font-size="6.4" letter-spacing="0.5">J/<tspan font-family="'DejaVu Sans', sans-serif">ψ</tspan></text>
<rect x="329.00" y="213.8" width="3.7" height="6.9" rx="0.6" fill="#ffcc00" stroke="#000" stroke-width="0.7"/>
<text x="333.30" y="219.4" font-size="5.8" letter-spacing="0">Υ</text>
<rect x="342.90" y="213.8" width="3.7" height="6.9" rx="0.6" fill="#ffff00" stroke="#000" stroke-width="0.7"/>
<text x="347.20" y="219.4" font-size="5.8" letter-spacing="0">Z</text>
<g clip-path="url(#cr2)">
<path d="M490.87 175.70L499.94 175.70L499.94 175.70L507.94 175.70L507.94 173.90L515.10 173.90L515.10 176.70L527.48 176.70L527.48 175.30L542.64 175.30L542.64 175.70L562.18 175.70L562.18 168.40L589.72 168.40L589.72 212.50L562.18 212.50L562.18 203.70L542.64 203.70L542.64 205.90L527.48 205.90L527.48 204.70L515.10 204.70L515.10 207.10L507.94 207.10L507.94 205.70L499.94 205.70L499.94 205.70L490.87 205.70Z" fill="#00ffff"/>
<path d="M490.87 173.30L499.94 173.30L499.94 174.70L515.10 174.70L515.10 175.70L527.48 175.70L527.48 178.60L542.64 178.60L542.64 176.90L562.18 176.90L562.18 179.70L577.34 179.70L577.34 179.70L589.72 179.70L589.72 179.70L617.26 179.70L617.26 201.70L589.72 201.70L589.72 201.70L577.34 201.70L577.34 201.70L562.18 201.70L562.18 204.20L542.64 204.20L542.64 202.40L527.48 202.40L527.48 204.20L515.10 204.20L515.10 205.30L499.94 205.30L499.94 207.10L490.87 207.10Z" fill="#ffcc00"/>
<path d="M562.18 179.20L589.72 179.20L589.72 178.10L600.19 178.10L600.19 178.10L609.26 178.10L609.26 176.30L617.26 176.30L617.26 176.30L624.42 176.30L624.42 178.50L636.80 178.50L636.80 178.50L647.27 178.50L647.27 171.20L683.88 171.20L683.88 209.40L647.27 209.40L647.27 201.20L636.80 201.20L636.80 199.40L624.42 199.40L624.42 204.00L617.26 204.00L617.26 204.00L609.26 204.00L609.26 201.20L600.19 201.20L600.19 201.20L589.72 201.20L589.72 202.20L562.18 202.20Z" fill="#ffff00"/>
<line x1="491.40" y1="190.75" x2="683.50" y2="190.75" stroke="#000" stroke-width="1.0"/>
<path d="M562.18 174.40H575.34M579.34 174.40H589.72M589.72 182.00H593.16M597.16 182.00H600.19M595.16 169.30V180.00M595.16 184.00V194.70M600.19 189.30H602.88M606.88 189.30H609.26M604.88 181.50V187.30M604.88 191.30V197.10M609.26 192.70H611.38M615.38 192.70H617.26M613.38 187.00V190.70M613.38 194.70V198.40M617.26 184.40H618.93M622.93 184.40H624.42M624.42 182.50H628.89M632.89 182.50H636.80M630.89 160.30V180.50M630.89 184.50V204.70M636.80 197.00H640.24M644.24 197.00H647.27M642.24 171.50V195.00M642.24 199.00V222.50M647.27 195.50H666.02M670.02 195.50H683.88M668.02 157.50V193.50M668.02 197.50V233.50" stroke="#000000" stroke-width="1.2" fill="none"/>
<circle cx="577.34" cy="174.40" r="2.55" fill="#000"/>
<circle cx="595.16" cy="182.00" r="2.55" fill="#000"/>
<circle cx="604.88" cy="189.30" r="2.55" fill="#000"/>
<circle cx="613.38" cy="192.70" r="2.55" fill="#000"/>
<circle cx="620.93" cy="184.40" r="2.55" fill="#000"/>
<circle cx="630.89" cy="182.50" r="2.55" fill="#000"/>
<circle cx="642.24" cy="197.00" r="2.55" fill="#000"/>
<circle cx="668.02" cy="195.50" r="2.55" fill="#000"/>
<path d="M490.87 195.50H493.56M497.56 195.50H499.94M495.56 180.50V193.50M495.56 197.50V210.50M499.94 189.60H502.06M506.06 189.60H507.94M504.06 185.10V187.60M504.06 191.60V194.10M507.94 186.30H509.62M513.62 186.30H515.10M511.62 181.80V184.30M511.62 188.30V190.80M515.10 193.20H519.57M523.57 193.20H527.48M521.57 181.10V191.20M521.57 195.20V205.30M527.48 185.80H533.48M537.48 185.80H542.64M535.48 180.50V183.80M535.48 187.80V191.10M542.64 182.00H551.11M555.11 182.00H562.18M553.11 172.00V180.00M553.11 184.00V192.00M562.18 183.10H575.34M579.34 183.10H589.72M577.34 170.00V181.10M577.34 185.10V196.20" stroke="#0000ff" stroke-width="0.95" fill="none"/>
<path d="M493.01 193.40H498.11L495.56 198.10Z" fill="#0000ff"/>
<path d="M501.51 187.50H506.61L504.06 192.20Z" fill="#0000ff"/>
<path d="M509.07 184.20H514.17L511.62 188.90Z" fill="#0000ff"/>
<path d="M519.02 191.10H524.12L521.57 195.80Z" fill="#0000ff"/>
<path d="M532.93 183.70H538.03L535.48 188.40Z" fill="#0000ff"/>
<path d="M550.56 179.90H555.66L553.11 184.60Z" fill="#0000ff"/>
<path d="M574.79 181.00H579.89L577.34 185.70Z" fill="#0000ff"/>
<path d="M490.87 199.80H493.06M498.06 199.80H499.94M499.94 195.00H505.44M510.44 195.00H515.10M515.10 197.40H519.07M524.07 197.40H527.48M527.48 195.80H532.98M537.98 195.80H542.64M542.64 190.40H550.61M555.61 190.40H562.18M553.11 185.60V187.90M553.11 192.90V195.20M562.18 181.10H567.68M572.68 181.10H577.34M570.18 161.50V178.60M570.18 183.60V200.70M577.34 208.30H581.31M586.31 208.30H589.72M583.81 189.30V205.80M583.81 210.80V227.30" stroke="#ff0000" stroke-width="0.95" fill="none"/>
<circle cx="495.56" cy="199.80" r="2.1" fill="none" stroke="#ff0000" stroke-width="0.85"/>
<circle cx="507.94" cy="195.00" r="2.1" fill="none" stroke="#ff0000" stroke-width="0.85"/>
<circle cx="521.57" cy="197.40" r="2.1" fill="none" stroke="#ff0000" stroke-width="0.85"/>
<circle cx="535.48" cy="195.80" r="2.1" fill="none" stroke="#ff0000" stroke-width="0.85"/>
<circle cx="553.11" cy="190.40" r="2.1" fill="none" stroke="#ff0000" stroke-width="0.85"/>
<circle cx="570.18" cy="181.10" r="2.1" fill="none" stroke="#ff0000" stroke-width="0.85"/>
<circle cx="583.81" cy="208.30" r="2.1" fill="none" stroke="#ff0000" stroke-width="0.85"/>
</g>
<g clip-path="url(#cu2)">
<path d="M490.87 100.00H493.06M498.06 100.00H499.94M499.94 95.50H505.44M510.44 95.50H515.10M515.10 98.50H519.07M524.07 98.50H527.48M527.48 99.60H532.98M537.98 99.60H542.64M542.64 96.50H550.61M555.61 96.50H562.18M562.18 92.30H567.68M572.68 92.30H577.34M570.18 82.00V89.80M570.18 94.80V102.60M577.34 102.40H581.31M586.31 102.40H589.72M583.81 90.90V99.90M583.81 104.90V113.90M589.72 97.50H602.38M607.38 97.50H617.26M604.88 85.00V95.00M604.88 100.00V110.00" stroke="#ff0000" stroke-width="0.95" fill="none"/>
<circle cx="495.56" cy="100.00" r="2.1" fill="none" stroke="#ff0000" stroke-width="0.85"/>
<circle cx="507.94" cy="95.50" r="2.1" fill="none" stroke="#ff0000" stroke-width="0.85"/>
<circle cx="521.57" cy="98.50" r="2.1" fill="none" stroke="#ff0000" stroke-width="0.85"/>
<circle cx="535.48" cy="99.60" r="2.1" fill="none" stroke="#ff0000" stroke-width="0.85"/>
<circle cx="553.11" cy="96.50" r="2.1" fill="none" stroke="#ff0000" stroke-width="0.85"/>
<circle cx="570.18" cy="92.30" r="2.1" fill="none" stroke="#ff0000" stroke-width="0.85"/>
<circle cx="583.81" cy="102.40" r="2.1" fill="none" stroke="#ff0000" stroke-width="0.85"/>
<circle cx="604.88" cy="97.50" r="2.1" fill="none" stroke="#ff0000" stroke-width="0.85"/>
<path d="M490.87 99.00H493.56M497.56 99.00H499.94M495.56 93.00V97.00M495.56 101.00V105.00M499.94 97.50H502.06M506.06 97.50H507.94M504.06 93.50V95.50M504.06 99.50V101.50M507.94 97.50H509.62M513.62 97.50H515.10M515.10 98.30H519.57M523.57 98.30H527.48M521.57 94.90V96.30M521.57 100.30V101.70M527.48 97.20H533.48M537.48 97.20H542.64M535.48 92.60V95.20M535.48 99.20V101.80M542.64 97.70H551.11M555.11 97.70H562.18M562.18 92.10H575.34M579.34 92.10H589.72" stroke="#0000ff" stroke-width="0.95" fill="none"/>
<path d="M493.01 96.90H498.11L495.56 101.60Z" fill="#0000ff"/>
<path d="M501.51 95.40H506.61L504.06 100.10Z" fill="#0000ff"/>
<path d="M509.07 95.40H514.17L511.62 100.10Z" fill="#0000ff"/>
<path d="M519.02 96.20H524.12L521.57 100.90Z" fill="#0000ff"/>
<path d="M532.93 95.10H538.03L535.48 99.80Z" fill="#0000ff"/>
<path d="M550.56 95.60H555.66L553.11 100.30Z" fill="#0000ff"/>
<path d="M574.79 90.00H579.89L577.34 94.70Z" fill="#0000ff"/>
<path d="M562.18 88.50H575.34M579.34 88.50H589.72M589.72 92.30H593.16M597.16 92.30H600.19M595.16 87.00V90.30M595.16 94.30V97.60M600.19 89.00H602.88M606.88 89.00H609.26M609.26 78.90H611.38M615.38 78.90H617.26M617.26 88.50H618.93M622.93 88.50H624.42M624.42 79.30H628.89M632.89 79.30H636.80M630.89 68.30V77.30M630.89 81.30V90.30M636.80 78.50H640.24M644.24 78.50H647.27M642.24 63.70V76.50M642.24 80.50V93.30M647.27 63.30H666.02M670.02 63.30H683.88M668.02 42.80V61.30M668.02 65.30V83.80" stroke="#000000" stroke-width="1.2" fill="none"/>
<circle cx="577.34" cy="88.50" r="2.55" fill="#000"/>
<circle cx="595.16" cy="92.30" r="2.55" fill="#000"/>
<circle cx="604.88" cy="89.00" r="2.55" fill="#000"/>
<circle cx="613.38" cy="78.90" r="2.55" fill="#000"/>
<circle cx="620.93" cy="88.50" r="2.55" fill="#000"/>
<circle cx="630.89" cy="79.30" r="2.55" fill="#000"/>
<circle cx="642.24" cy="78.50" r="2.55" fill="#000"/>
<circle cx="668.02" cy="63.30" r="2.55" fill="#000"/>
</g>
<rect x="491.4" y="1.6" width="192.10000000000002" height="223.3" fill="none" stroke="#000" stroke-width="0.95"/>
<line x1="491.4" y1="156.1" x2="683.5" y2="156.1" stroke="#000" stroke-width="1.1"/>
<path d="M491.4 156.10h6.8M683.5 156.10h-6.8M491.4 151.34h3.3M683.5 151.34h-3.3M491.4 146.58h3.3M683.5 146.58h-3.3M491.4 141.82h3.3M683.5 141.82h-3.3M491.4 137.06h3.3M683.5 137.06h-3.3M491.4 132.30h6.8M683.5 132.30h-6.8M491.4 127.54h3.3M683.5 127.54h-3.3M491.4 122.78h3.3M683.5 122.78h-3.3M491.4 118.02h3.3M683.5 118.02h-3.3M491.4 113.26h3.3M683.5 113.26h-3.3M491.4 108.50h6.8M683.5 108.50h-6.8M491.4 103.74h3.3M683.5 103.74h-3.3M491.4 98.98h3.3M683.5 98.98h-3.3M491.4 94.22h3.3M683.5 94.22h-3.3M491.4 89.46h3.3M683.5 89.46h-3.3M491.4 84.70h6.8M683.5 84.70h-6.8M491.4 79.94h3.3M683.5 79.94h-3.3M491.4 75.18h3.3M683.5 75.18h-3.3M491.4 70.42h3.3M683.5 70.42h-3.3M491.4 65.66h3.3M683.5 65.66h-3.3M491.4 60.90h6.8M683.5 60.90h-6.8M491.4 56.14h3.3M683.5 56.14h-3.3M491.4 51.38h3.3M683.5 51.38h-3.3M491.4 46.62h3.3M683.5 46.62h-3.3M491.4 41.86h3.3M683.5 41.86h-3.3M491.4 37.10h6.8M683.5 37.10h-6.8M491.4 32.34h3.3M683.5 32.34h-3.3M491.4 27.58h3.3M683.5 27.58h-3.3M491.4 22.82h3.3M683.5 22.82h-3.3M491.4 18.06h3.3M683.5 18.06h-3.3M491.4 13.30h6.8M683.5 13.30h-6.8M491.4 8.54h3.3M683.5 8.54h-3.3M491.4 3.78h3.3M683.5 3.78h-3.3M491.4 223.41h3.0M683.5 223.41h-3.0M491.4 220.69h3.0M683.5 220.69h-3.0M491.4 217.96h5.5M683.5 217.96h-5.5M491.4 215.23h3.0M683.5 215.23h-3.0M491.4 212.51h3.0M683.5 212.51h-3.0M491.4 209.78h3.0M683.5 209.78h-3.0M491.4 207.06h3.0M683.5 207.06h-3.0M491.4 204.33h5.5M683.5 204.33h-5.5M491.4 201.60h3.0M683.5 201.60h-3.0M491.4 198.88h3.0M683.5 198.88h-3.0M491.4 196.15h3.0M683.5 196.15h-3.0M491.4 193.43h3.0M683.5 193.43h-3.0M491.4 190.70h5.5M683.5 190.70h-5.5M491.4 187.97h3.0M683.5 187.97h-3.0M491.4 185.25h3.0M683.5 185.25h-3.0M491.4 182.52h3.0M683.5 182.52h-3.0M491.4 179.80h3.0M683.5 179.80h-3.0M491.4 177.07h5.5M683.5 177.07h-5.5M491.4 174.34h3.0M683.5 174.34h-3.0M491.4 171.62h3.0M683.5 171.62h-3.0M491.4 168.89h3.0M683.5 168.89h-3.0M491.4 166.17h3.0M683.5 166.17h-3.0M491.4 163.44h5.5M683.5 163.44h-5.5M491.4 160.71h3.0M683.5 160.71h-3.0M491.4 157.99h3.0M683.5 157.99h-3.0M499.94 1.6v2.0M499.94 156.1v-2.0M499.94 156.1v1.3M499.94 224.9v-1.3M507.94 1.6v2.0M507.94 156.1v-2.0M507.94 156.1v1.3M507.94 224.9v-1.3M515.10 1.6v4.0M515.10 156.1v-4.0M515.10 156.1v2.5M515.10 224.9v-2.5M562.18 1.6v2.0M562.18 156.1v-2.0M562.18 156.1v1.3M562.18 224.9v-1.3M589.72 1.6v2.0M589.72 156.1v-2.0M589.72 156.1v1.3M589.72 224.9v-1.3M609.26 1.6v2.0M609.26 156.1v-2.0M609.26 156.1v1.3M609.26 224.9v-1.3M624.42 1.6v2.0M624.42 156.1v-2.0M624.42 156.1v1.3M624.42 224.9v-1.3M636.80 1.6v2.0M636.80 156.1v-2.0M636.80 156.1v1.3M636.80 224.9v-1.3M647.27 1.6v2.0M647.27 156.1v-2.0M647.27 156.1v1.3M647.27 224.9v-1.3M656.34 1.6v2.0M656.34 156.1v-2.0M656.34 156.1v1.3M656.34 224.9v-1.3M664.34 1.6v2.0M664.34 156.1v-2.0M664.34 156.1v1.3M664.34 224.9v-1.3M671.50 1.6v4.0M671.50 156.1v-4.0M671.50 156.1v2.5M671.50 224.9v-2.5" stroke="#000" stroke-width="0.9" fill="none"/>
<text x="491.00" y="16.20" font-size="7.9" text-anchor="end" >0.06</text>
<text x="491.00" y="40.00" font-size="7.9" text-anchor="end" >0.05</text>
<text x="491.00" y="63.80" font-size="7.9" text-anchor="end" >0.04</text>
<text x="491.00" y="87.60" font-size="7.9" text-anchor="end" >0.03</text>
<text x="491.00" y="111.40" font-size="7.9" text-anchor="end" >0.02</text>
<text x="491.00" y="135.20" font-size="7.9" text-anchor="end" >0.01</text>
<text x="491.10" y="166.34" font-size="7.9" text-anchor="end" >1.2</text>
<text x="491.10" y="179.97" font-size="7.9" text-anchor="end" >1.1</text>
<text x="492.50" y="193.60" font-size="7.9" text-anchor="end" >1</text>
<text x="491.10" y="207.23" font-size="7.9" text-anchor="end" >0.9</text>
<text x="491.10" y="220.86" font-size="7.9" text-anchor="end" >0.8</text>
<text x="515.35" y="234.80" font-size="7.6" text-anchor="middle" >10</text>
<text x="670.60" y="234.80" font-size="7.6" text-anchor="middle" >10</text>
<text x="675.00" y="231.50" font-size="4.6" text-anchor="start" >2</text>
<text x="682.90" y="242.30" font-size="8.0" text-anchor="end" textLength="18.6" lengthAdjust="spacingAndGlyphs">[GeV]</text>
<text x="633.20" y="242.90" font-size="7.2" text-anchor="start" >p</text>
<text x="637.20" y="246.00" font-size="4.4" text-anchor="start" >T</text>
<text x="640.40" y="242.90" font-size="7.2" text-anchor="start" >,</text>
<text x="643.80" y="242.90" font-size="7.2" text-anchor="start" >p</text>
<text x="647.40" y="243.20" font-size="5.2" text-anchor="start" >*</text>
<text x="650.90" y="246.00" font-size="4.4" text-anchor="start" >T</text>
<line x1="633.40" y1="237.2" x2="637.00" y2="237.2" stroke="#000" stroke-width="0.8"/>
<text transform="translate(469.90,43.0) rotate(-90)" font-size="8.1">σ(m<tspan font-size="4.8" dy="2.4" dx="0.3">μμ</tspan><tspan dy="-2.4">) / m</tspan><tspan font-size="4.8" dy="2.4" dx="0.3">μμ</tspan></text>
<text transform="translate(470.30,190.4) rotate(-90)" font-size="7.8">Data / MC</text>
<text x="506.80" y="17.6" font-size="8.2" font-weight="bold" font-style="italic">ATLAS</text>
<text x="506.80" y="27.8" font-size="7.7">MS</text>
<text x="527.10" y="27.8" font-size="7.7">|η|&gt;2</text>
<text x="506.80" y="39.0" font-size="7.7">√<tspan>s=8 TeV</tspan></text>
<line x1="510.00" y1="32.3" x2="514.60" y2="32.3" stroke="#000" stroke-width="0.65"/>
<text x="506.80" y="49.8" font-size="7.7">L = 20.3 fb<tspan font-size="5.4" dy="-3.2">-1</tspan></text>
<circle cx="603.50" cy="18.10" r="2.55" fill="#000"/>
<circle cx="603.50" cy="29.10" r="2.1" fill="none" stroke="#ff0000" stroke-width="0.85"/>
<path d="M600.95 37.90H606.05L603.50 42.60Z" fill="#0000ff"/>
<text x="608.90" y="20.70" font-size="8.0">Z</text>
<text x="608.90" y="31.40" font-size="8.0">Υ</text>
<text x="608.90" y="42.00" font-size="8.0">J/<tspan font-family="'DejaVu Sans', sans-serif">ψ</tspan></text>
<text x="501.60" y="218.9" font-size="6.4">Uncertainty</text>
<rect x="539.50" y="213.8" width="3.7" height="6.9" rx="0.6" fill="#00ffff" stroke="#000" stroke-width="0.7"/>
<text x="543.80" y="219.4" font-size="6.4" letter-spacing="0.5">J/<tspan font-family="'DejaVu Sans', sans-serif">ψ</tspan></text>
<rect x="559.80" y="213.8" width="3.7" height="6.9" rx="0.6" fill="#ffcc00" stroke="#000" stroke-width="0.7"/>
<text x="564.10" y="219.4" font-size="5.8" letter-spacing="0">Υ</text>
<rect x="573.70" y="213.8" width="3.7" height="6.9" rx="0.6" fill="#ffff00" stroke="#000" stroke-width="0.7"/>
<text x="578.00" y="219.4" font-size="5.8" letter-spacing="0">Z</text></svg></body></html>
